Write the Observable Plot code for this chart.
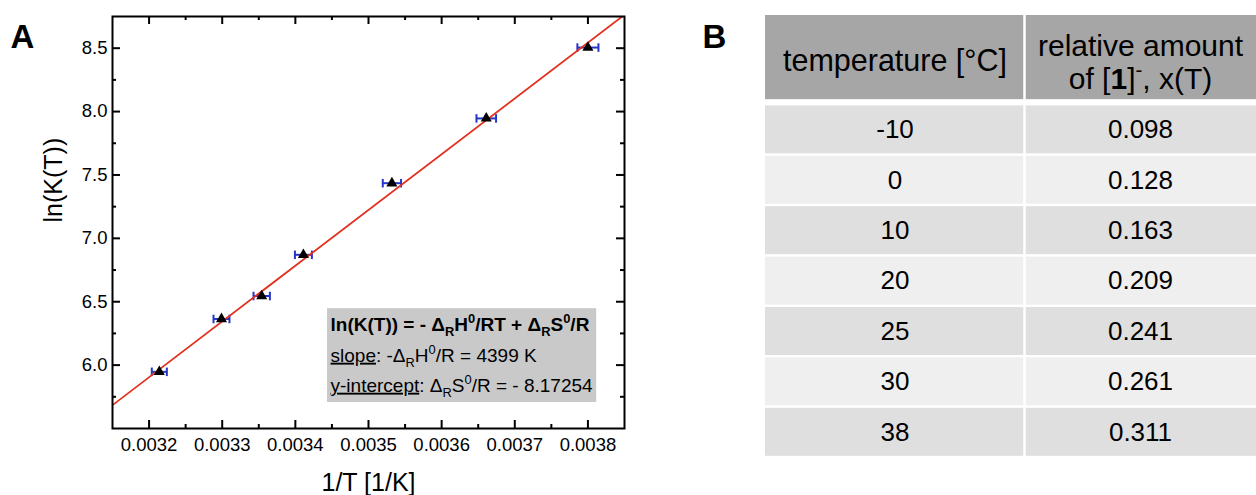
<!DOCTYPE html>
<html>
<head>
<meta charset="utf-8">
<script src="https://cdn.jsdelivr.net/npm/d3@7"></script>
<script src="https://cdn.jsdelivr.net/npm/@observablehq/plot@0.6"></script>
<style>
  html, body { margin: 0; padding: 0; background: #fff; }
  #wrap { position: relative; width: 1256px; height: 495px; overflow: hidden; font-family: Arial, "Liberation Sans", sans-serif; }
  #left { position: absolute; left: 0; top: 0; width: 690px; height: 495px; }
  #right { position: absolute; left: 690px; top: 0; width: 566px; height: 495px; }
</style>
</head>
<body>
<div id="wrap"><div id="left"></div><div id="right"></div></div>
<script>
// ---------------- data ----------------
const temperaturesC = [-10, 0, 10, 20, 25, 30, 38];
const relativeAmount = ["0.098", "0.128", "0.163", "0.209", "0.241", "0.261", "0.311"];
const invT = [0.003800, 0.003661, 0.003532, 0.003411, 0.003354, 0.003299, 0.003214];
const lnK = [8.505, 7.946, 7.435, 6.870, 6.545, 6.364, 5.947];
const invTErr = [0.0000144, 0.0000134, 0.0000125, 0.0000116, 0.0000112, 0.0000109, 0.0000103];
const fitSlope = 4399;
const fitIntercept = -8.17254;
const xDomain = [0.00315, 0.00385];
const yDomain = [5.5, 8.75];
const xTicks = [0.0032, 0.0033, 0.0034, 0.0035, 0.0036, 0.0037, 0.0038];
const xMinorTicks = [0.00325, 0.00335, 0.00345, 0.00355, 0.00365, 0.00375];
const yTicks = [6.0, 6.5, 7.0, 7.5, 8.0, 8.5];
const yMinorTicks = [5.75, 6.25, 6.75, 7.25, 7.75, 8.25];
const xLabel = "1/T [1/K]";
const yLabel = "ln(K(T))";
const panelLabels = ["A", "B"];
const equationTitle = "ln(K(T)) = - Δ_{R}H^{0}/RT + Δ_{R}S^{0}/R";
const equationLines = ["~{slope}: -Δ_{R}H^{0}/R = 4399 K", "~{y-intercept}: Δ_{R}S^{0}/R = - 8.17254"];
const tableHeaders = ["temperature [°C]", "relative amount\nof [*{1}]^{-}, x(T)"];

// ---------------- layout constants ----------------
const FONT = "Arial, 'Liberation Sans', sans-serif";
const W = 690, H = 495, ML = 112, MR = 66, MT = 16, MB = 67;
const frameW = W - ML - MR, frameH = H - MT - MB;
const MAJOR = 8, MINOR = 4;
const annotBox = {x1: 0.003444, x2: 0.003812, y1: 5.705, y2: 6.445};
const colSplit = 0.5275;
const headerTop = -1.77, headerBottom = -0.1;

// ---------------- left panel ----------------
const pts = invT.map((x, i) => ({x, y: lnK[i], e: invTErr[i]}));
const fitLine = xDomain.map(x => ({x, y: fitSlope * x + fitIntercept}));
const capSymbol = {draw(ctx, size) { const h = Math.sqrt(size); ctx.moveTo(0, -h); ctx.lineTo(0, h); }};
const BLUE = "#2536c8", RED = "#e2321f";
const tickStyle = {stroke: "black", strokeWidth: 2};

const left = Plot.plot({
  width: W, height: H,
  marginLeft: ML, marginRight: MR, marginTop: MT, marginBottom: MB,
  style: {fontFamily: FONT, color: "black", background: "transparent", overflow: "visible"},
  x: {domain: xDomain},
  y: {domain: yDomain},
  marks: [
    Plot.rect([annotBox], {x1: "x1", x2: "x2", y1: "y1", y2: "y2", fill: "#c9c9c9"}),
    Plot.ruleY(pts, {y: "y", x1: d => d.x - d.e, x2: d => d.x + d.e, stroke: BLUE, strokeWidth: 2}),
    Plot.dot(pts, {x: d => d.x - d.e, y: "y", symbol: capSymbol, r: 2.4, fill: "none", stroke: BLUE, strokeWidth: 2}),
    Plot.dot(pts, {x: d => d.x + d.e, y: "y", symbol: capSymbol, r: 2.4, fill: "none", stroke: BLUE, strokeWidth: 2}),
    Plot.line(fitLine, {x: "x", y: "y", stroke: RED, strokeWidth: 1.8, clip: true}),
    Plot.dot(pts, {x: "x", y: "y", symbol: "triangle", r: 4.1, fill: "black", stroke: "none"}),
    // inward tick marks on all four sides
    Plot.ruleX(xTicks, {insetTop: frameH - MAJOR, ...tickStyle}),
    Plot.ruleX(xMinorTicks, {insetTop: frameH - MINOR, ...tickStyle}),
    Plot.ruleX(xTicks, {insetBottom: frameH - MAJOR, ...tickStyle}),
    Plot.ruleX(xMinorTicks, {insetBottom: frameH - MINOR, ...tickStyle}),
    Plot.ruleY(yTicks, {insetRight: frameW - MAJOR, ...tickStyle}),
    Plot.ruleY(yMinorTicks, {insetRight: frameW - MINOR, ...tickStyle}),
    Plot.ruleY(yTicks, {insetLeft: frameW - MAJOR, ...tickStyle}),
    Plot.ruleY(yMinorTicks, {insetLeft: frameW - MINOR, ...tickStyle}),
    // tick labels
    Plot.axisX({ticks: xTicks, anchor: "bottom", tickSize: 0, tickPadding: 9, tickFormat: d3.format(".4f"), fontSize: 18.5, label: null}),
    Plot.axisY({ticks: yTicks, anchor: "left", tickSize: 0, tickPadding: 5, tickFormat: d3.format(".1f"), fontSize: 18.5, label: null}),
    Plot.frame({stroke: "black", strokeWidth: 2}),
    // axis titles
    Plot.text([xLabel], {frameAnchor: "bottom", dy: 62, lineAnchor: "bottom", fontSize: 25}),
    Plot.text([yLabel], {frameAnchor: "left", dx: -59, rotate: -90, lineAnchor: "middle", fontSize: 25}),
    // panel label
    Plot.text([panelLabels[0]], {frameAnchor: "top-left", dx: -102, dy: 31, textAnchor: "start", lineAnchor: "bottom", fontSize: 33, fontWeight: "bold"}),
    // annotation
    Plot.text([equationTitle], {x: annotBox.x1, y: annotBox.y2, dx: 3, dy: 22, textAnchor: "start", lineAnchor: "bottom", fontSize: 19, fontWeight: "bold"}),
    Plot.text([equationLines[0]], {x: annotBox.x1, y: annotBox.y2, dx: 3, dy: 53, textAnchor: "start", lineAnchor: "bottom", fontSize: 19}),
    Plot.text([equationLines[1]], {x: annotBox.x1, y: annotBox.y2, dx: 3, dy: 83, textAnchor: "start", lineAnchor: "bottom", fontSize: 19})
  ]
});

// ---------------- right panel (table) ----------------
const rows = temperaturesC.map((t, i) => ({i, t: String(t), v: relativeAmount[i]}));
const cols = [{c1: 0, c2: colSplit}, {c1: colSplit, c2: 1}];
const cells = rows.flatMap(r => cols.map(c => ({...r, ...c})));

const right = Plot.plot({
  width: 566, height: 495,
  marginLeft: 75, marginRight: 0, marginTop: 15, marginBottom: 38,
  style: {fontFamily: FONT, color: "black", background: "transparent", overflow: "visible"},
  x: {domain: [0, 1], axis: null},
  y: {domain: [headerTop, 7], reverse: true, axis: null},
  marks: [
    Plot.rect(cols, {x1: "c1", x2: "c2", y1: headerTop, y2: headerBottom, fill: "#a6a6a6"}),
    Plot.rect(cells, {filter: d => d.i % 2 === 0, x1: "c1", x2: "c2", y1: d => d.i, y2: d => d.i + 1, fill: "#dfdfdf", insetTop: 1.2, insetBottom: 1.2}),
    Plot.rect(cells, {filter: d => d.i % 2 === 1, x1: "c1", x2: "c2", y1: d => d.i, y2: d => d.i + 1, fill: "#efefef", insetTop: 1.2, insetBottom: 1.2}),
    Plot.ruleX([colSplit], {stroke: "white", strokeWidth: 2.5}),
    Plot.text([tableHeaders[0]], {x: colSplit / 2, y: (headerTop + headerBottom) / 2, dy: 4, fontSize: 30.5}),
    Plot.text([tableHeaders[1]], {x: (1 + colSplit) / 2, y: (headerTop + headerBottom) / 2, dy: 4, fontSize: 30, lineHeight: 1.1}),
    Plot.text(rows, {x: colSplit / 2, y: d => d.i + 0.5, text: "t", fontSize: 26}),
    Plot.text(rows, {x: (1 + colSplit) / 2, y: d => d.i + 0.5, text: "v", fontSize: 26}),
    Plot.text([panelLabels[1]], {frameAnchor: "top-left", dx: -63, dy: 32, textAnchor: "start", lineAnchor: "bottom", fontSize: 33, fontWeight: "bold"})
  ]
});

document.getElementById("left").appendChild(left);
document.getElementById("right").appendChild(right);

// rich text: _{sub} ^{sup} ~{underline} *{bold}
function richify(svg) {
  const NS = "http://www.w3.org/2000/svg";
  svg.querySelectorAll("text").forEach(text => {
    const lines = text.querySelector("tspan") ? Array.from(text.querySelectorAll("tspan")) : [text];
    const fs = parseFloat(getComputedStyle(text).fontSize) || 18;
    lines.forEach(el => {
      const s = el.textContent;
      if (!/[_^~*]\{/.test(s)) return;
      while (el.firstChild) el.removeChild(el.firstChild);
      let shift = 0;
      const add = (str, kind) => {
        const t = document.createElementNS(NS, "tspan");
        t.textContent = str;
        let target = 0;
        if (kind === "_") { target = 0.3 * fs; t.setAttribute("font-size", 0.68 * fs); }
        if (kind === "^") { target = -0.38 * fs; t.setAttribute("font-size", 0.68 * fs); }
        if (kind === "~") t.style.textDecoration = "underline";
        if (kind === "*") t.setAttribute("font-weight", "bold");
        if (target !== shift) { t.setAttribute("dy", target - shift); shift = target; }
        el.appendChild(t);
      };
      const re = /([_^~*])\{([^}]*)\}/g;
      let last = 0, m;
      while ((m = re.exec(s))) {
        if (m.index > last) add(s.slice(last, m.index), "");
        add(m[2], m[1]);
        last = re.lastIndex;
      }
      if (last < s.length) add(s.slice(last), "");
      if (shift !== 0) add("\u200B", "");
    });
  });
}
richify(left);
richify(right);
</script>
</body>
</html>
